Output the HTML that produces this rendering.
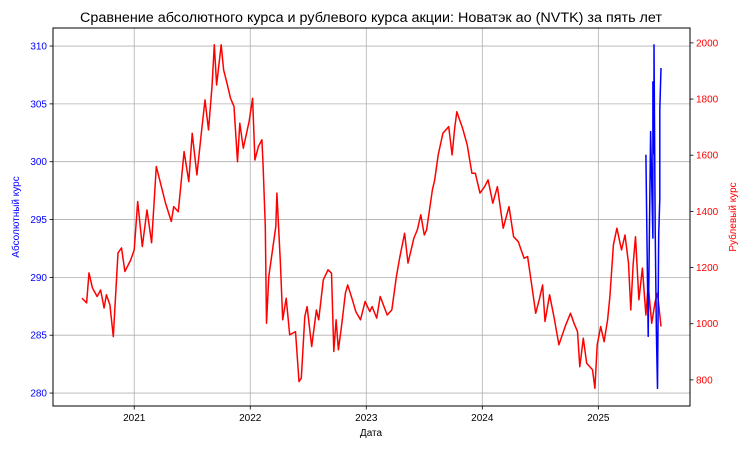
<!DOCTYPE html>
<html><head><meta charset="utf-8"><style>
html,body{margin:0;padding:0;background:#fff;}
svg{display:block;font-family:"Liberation Sans","DejaVu Sans",sans-serif;}
</style></head><body>
<svg id="chart" width="750" height="450" viewBox="0 0 750 450" xmlns="http://www.w3.org/2000/svg">
<text x="80" y="22" font-size="13.5" textLength="582" lengthAdjust="spacingAndGlyphs">Сравнение абсолютного курса и рублевого курса акции: Новатэк ао (NVTK) за пять лет</text>
<g id="grid"></g>
<g id="series"></g>
<rect x="53" y="28" width="637" height="378" fill="none" stroke="#000" stroke-width="1"/>
<g id="axes"></g>
<text x="371" y="436" text-anchor="middle" font-size="10">Дата</text>
<text transform="translate(19,217) rotate(-90)" text-anchor="middle" font-size="10" fill="#0000ff">Абсолютный курс</text>
<text transform="translate(736,217) rotate(-90)" text-anchor="middle" font-size="10" fill="#ff0000">Рублевый курс</text>
</svg>
<script>
const xTicks = [2021, 2022, 2023, 2024, 2025];
const leftTicks = [280, 285, 290, 295, 300, 305, 310];
const rightTicks = [800, 1000, 1200, 1400, 1600, 1800, 2000];
const rubDates = [2020.55,2020.59,2020.61,2020.64,2020.68,2020.71,2020.74,2020.76,2020.79,2020.82,2020.86,2020.89,2020.92,2020.97,2021.00,2021.03,2021.07,2021.11,2021.15,2021.19,2021.22,2021.27,2021.32,2021.34,2021.38,2021.43,2021.47,2021.50,2021.54,2021.58,2021.61,2021.64,2021.67,2021.69,2021.71,2021.75,2021.77,2021.80,2021.83,2021.86,2021.89,2021.91,2021.94,2021.99,2022.02,2022.04,2022.07,2022.10,2022.11,2022.13,2022.14,2022.16,2022.22,2022.23,2022.26,2022.28,2022.31,2022.34,2022.39,2022.42,2022.44,2022.47,2022.49,2022.53,2022.57,2022.59,2022.63,2022.67,2022.70,2022.72,2022.74,2022.76,2022.79,2022.82,2022.84,2022.88,2022.91,2022.95,2022.99,2023.03,2023.05,2023.09,2023.12,2023.18,2023.22,2023.26,2023.29,2023.33,2023.36,2023.41,2023.44,2023.47,2023.50,2023.52,2023.57,2023.59,2023.62,2023.66,2023.71,2023.74,2023.76,2023.78,2023.83,2023.87,2023.91,2023.94,2023.98,2024.02,2024.05,2024.09,2024.13,2024.18,2024.23,2024.27,2024.31,2024.36,2024.39,2024.43,2024.46,2024.49,2024.52,2024.54,2024.58,2024.62,2024.66,2024.72,2024.76,2024.79,2024.82,2024.84,2024.87,2024.90,2024.95,2024.97,2024.99,2025.02,2025.05,2025.08,2025.10,2025.13,2025.16,2025.20,2025.23,2025.26,2025.28,2025.30,2025.32,2025.35,2025.38,2025.41,2025.43,2025.46,2025.49,2025.51,2025.54];
const rubValues = [1091,1074,1181,1128,1097,1120,1056,1103,1067,954,1252,1270,1186,1227,1263,1435,1275,1405,1288,1560,1512,1430,1364,1417,1399,1613,1506,1678,1530,1684,1797,1690,1844,1993,1850,1993,1904,1856,1803,1773,1577,1714,1625,1720,1803,1583,1631,1655,1572,1346,1002,1168,1346,1465,1216,1014,1091,960,972,794,806,1025,1061,919,1049,1014,1156,1192,1180,901,1014,907,1002,1109,1138,1085,1043,1014,1079,1043,1061,1020,1097,1031,1049,1168,1239,1322,1216,1305,1334,1388,1316,1334,1477,1512,1601,1678,1702,1601,1690,1755,1696,1637,1536,1536,1465,1488,1512,1429,1488,1340,1417,1310,1292,1233,1239,1126,1037,1085,1138,1008,1103,1020,925,996,1037,1002,972,847,948,859,836,770,925,990,936,1014,1097,1281,1340,1263,1316,1216,1049,1209,1310,1085,1198,1031,1138,1002,1079,1109,990,1085];
const absDates = [2025.41,2025.43,2025.45,2025.47,2025.47,2025.48,2025.48,2025.49,2025.50,2025.51,2025.52,2025.53,2025.53,2025.54];
const absValues = [300.6,284.9,302.6,293.4,306.9,300.7,310.1,294.1,285.2,280.4,293.7,296.8,304.5,308.1];

const L=53,R=690,T=28,B=406;
const xS=v=>L+(v-2020.30)/(2025.79-2020.30)*(R-L);
const yL=v=>B-(v-278.88)/(311.56-278.88)*(B-T);
const yR=v=>B-(v-707)/(2053-707)*(B-T);
const NS='http://www.w3.org/2000/svg';
function mk(tag,attrs,parent,txt){const e=document.createElementNS(NS,tag);for(const k in attrs)e.setAttribute(k,attrs[k]);if(txt!=null)e.textContent=txt;parent.appendChild(e);return e;}
const grid=document.getElementById('grid'),axes=document.getElementById('axes'),ser=document.getElementById('series');
xTicks.forEach(t=>{const x=xS(t);
  const g=mk('line',{x1:x,x2:x,y1:T,y2:B,stroke:'#b0b0b0','stroke-width':0.8},grid);
  
  
  const tk=mk('line',{x1:x,x2:x,y1:B,y2:B+3.5,stroke:'#000','stroke-width':0.8},axes);
  
  
  const lb=mk('text',{x:x,y:B+15,'text-anchor':'middle','font-size':10},axes,String(t));
  
  
});
leftTicks.forEach(t=>{const y=yL(t);
  const g=mk('line',{x1:L,x2:R,y1:y,y2:y,stroke:'#b0b0b0','stroke-width':0.8},grid);
  
  
  const tk=mk('line',{x1:L-3.5,x2:L,y1:y,y2:y,stroke:'#000','stroke-width':0.8},axes);
  
  
  const lb=mk('text',{x:L-6,y:y+3.5,'text-anchor':'end','font-size':10,fill:'#0000ff'},axes,String(t));
  
  
});
rightTicks.forEach(t=>{const y=yR(t);
  const tk=mk('line',{x1:R,x2:R+3.5,y1:y,y2:y,stroke:'#000','stroke-width':0.8},axes);
  
  
  const lb=mk('text',{x:R+6,y:y+3.5,'text-anchor':'start','font-size':10,fill:'#ff0000'},axes,String(t));
  
  
});
const rp=rubDates.map((d,i)=>xS(d).toFixed(1)+','+yR(rubValues[i]).toFixed(1)).join(' ');
const red=mk('polyline',{points:rp,fill:'none',stroke:'#ff0000','stroke-width':1.5,'stroke-linejoin':'round'},ser);


const bp=absDates.map((d,i)=>xS(d).toFixed(1)+','+yL(absValues[i]).toFixed(1)).join(' ');
const blue=mk('polyline',{points:bp,fill:'none',stroke:'#0000ff','stroke-width':1.5,'stroke-linejoin':'round'},ser);


</script>
</body></html>
